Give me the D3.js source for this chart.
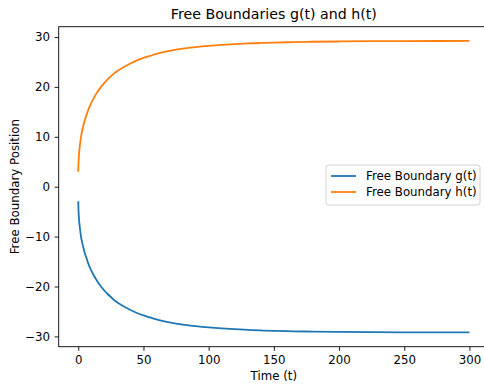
<!DOCTYPE html>
<html>
<head>
<meta charset="utf-8">
<script src="https://cdn.jsdelivr.net/npm/d3@7"></script>
<style>
  body { margin: 0; background: #fff; }
  svg { display: block; font-family: "DejaVu Sans", sans-serif; }
</style>
</head>
<body>
<svg id="chart" width="484" height="387"></svg>
<script>
const times = [0, 0.1, 0.25, 0.5, 1, 1.5, 2, 2.5, 3, 4, 5, 6, 7, 8, 10, 12, 14, 16, 18, 20, 22.5, 25, 27.5, 30, 35, 40, 45, 50, 55, 60, 70, 80, 90, 100, 110, 120, 130, 140, 150, 165, 180, 200, 225, 250, 275, 300];
const hValues = [3.0, 4.0, 5.0, 6.2, 7.7, 8.8, 9.8, 10.6, 11.2, 12.3, 13.3, 14.1, 14.9, 15.6, 16.8, 17.8, 18.7, 19.5, 20.2, 20.8, 21.5, 22.1, 22.7, 23.2, 24.0, 24.7, 25.3, 25.8, 26.2, 26.6, 27.2, 27.65, 27.95, 28.2, 28.4, 28.55, 28.7, 28.8, 28.88, 28.97, 29.04, 29.1, 29.15, 29.18, 29.19, 29.2];
const gValues = [-2.9, -4.0, -5.0, -6.2, -7.7, -8.8, -9.8, -10.6, -11.2, -12.3, -13.3, -14.1, -14.9, -15.6, -16.8, -17.8, -18.7, -19.5, -20.2, -20.8, -21.5, -22.1, -22.7, -23.2, -24.0, -24.7, -25.3, -25.8, -26.2, -26.6, -27.2, -27.65, -27.95, -28.2, -28.4, -28.55, -28.7, -28.8, -28.88, -28.97, -29.04, -29.1, -29.15, -29.18, -29.19, -29.2];
const xTicks = [0, 50, 100, 150, 200, 250, 300];
const yTicks = [-30, -20, -10, 0, 10, 20, 30];
const seriesNames = ["Free Boundary g(t)", "Free Boundary h(t)"];
const colors = ["#1f77b4", "#ff7f0e"];

(function () {
const svg = d3.select("#chart");
const mLeft = 58.7, mRight = 489, mTop = 26.7, mBottom = 346.7;
const fs = 11.8;

const x = d3.scaleLinear().domain([-15, 315]).range([mLeft, mRight]);
const y = d3.scaleLinear().domain([-32.06, 32.06]).range([mBottom, mTop]);

const fmt = d => d < 0 ? "\u2212" + Math.abs(d) : String(d);

// lines
const line = d3.line().x(d => x(d[0])).y(d => y(d[1])).curve(d3.curveMonotoneX);
const series = [gValues, hValues];
series.forEach((vals, i) => {
  svg.append("path")
    .datum(times.map((t, j) => [t, vals[j]]))
    .attr("fill", "none")
    .attr("stroke", colors[i])
    .attr("stroke-width", 1.8)
    .attr("d", line);
});

// axes
const xAxis = svg.append("g").attr("transform", `translate(0,${mBottom})`)
  .call(d3.axisBottom(x).tickValues(xTicks).tickSize(4.1).tickPadding(5).tickFormat(fmt));
const yAxis = svg.append("g").attr("transform", `translate(${mLeft},0)`)
  .call(d3.axisLeft(y).tickValues(yTicks).tickSize(4.1).tickPadding(4.5).tickFormat(fmt));
[xAxis, yAxis].forEach(a => {
  a.select(".domain").remove();
  a.selectAll("line").attr("stroke", "#000").attr("stroke-width", 0.9);
  a.selectAll("text").attr("font-size", fs).attr("fill", "#000").attr("font-family", "DejaVu Sans");
});

// spines
svg.append("rect")
  .attr("x", mLeft).attr("y", mTop)
  .attr("width", mRight - mLeft).attr("height", mBottom - mTop)
  .attr("fill", "none").attr("stroke", "#000").attr("stroke-width", 0.9);

// title and labels
svg.append("text").attr("x", (mLeft + mRight) / 2).attr("y", 19)
  .attr("text-anchor", "middle").attr("font-size", 14.2).text("Free Boundaries g(t) and h(t)");
svg.append("text").attr("x", (mLeft + mRight) / 2).attr("y", 379.5)
  .attr("text-anchor", "middle").attr("font-size", fs).text("Time (t)");
svg.append("text")
  .attr("transform", `translate(18.5,${(mTop + mBottom) / 2}) rotate(-90)`)
  .attr("text-anchor", "middle").attr("font-size", fs).text("Free Boundary Position");

// legend
const lg = svg.append("g").attr("transform", "translate(326,165)");
lg.append("rect").attr("width", 154).attr("height", 40).attr("rx", 2.5)
  .attr("fill", "#fff").attr("fill-opacity", 0.8).attr("stroke", "#ccc").attr("stroke-width", 0.9);
seriesNames.forEach((n, i) => {
  const yy = 11 + i * 16;
  lg.append("line").attr("x1", 5).attr("x2", 30).attr("y1", yy).attr("y2", yy)
    .attr("stroke", colors[i]).attr("stroke-width", 1.8);
  lg.append("text").attr("x", 40).attr("y", yy + 4.2).attr("font-size", fs).text(n);
});
})();
</script>
</body>
</html>
